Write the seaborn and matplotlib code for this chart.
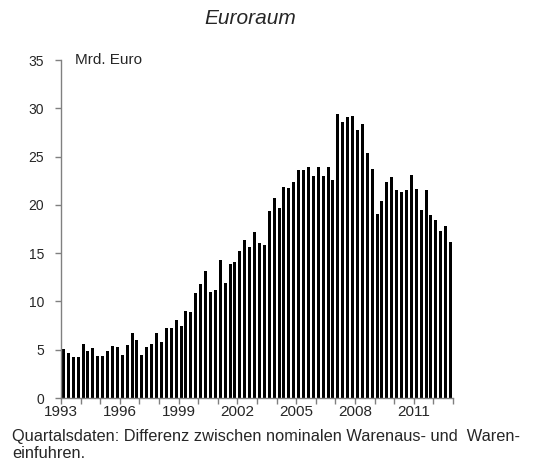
import numpy as np
import pandas as pd
import matplotlib
matplotlib.use("Agg")
import matplotlib.pyplot as plt
import seaborn as sns

# quarterly trade balance, 1993Q1 .. 2012Q4 (Mrd. Euro)
values = [
    5.1, 4.7, 4.2, 4.2,
    5.6, 4.9, 5.2, 4.4,
    4.3, 4.9, 5.4, 5.3,
    4.5, 5.5, 6.7, 6.0,
    4.5, 5.3, 5.6, 6.7,
    5.8, 7.2, 7.2, 8.1,
    7.5, 9.0, 8.9, 10.9,
    11.8, 13.1, 11.0, 11.2,
    14.3, 11.9, 13.9, 14.1,
    15.2, 16.4, 15.6, 17.2,
    16.1, 15.8, 19.4, 20.7,
    19.7, 21.9, 21.7, 22.4,
    23.6, 23.6, 23.9, 23.0,
    23.9, 23.0, 23.9, 22.6,
    29.4, 28.6, 29.1, 29.2,
    27.8, 28.4, 25.4, 23.7,
    19.1, 20.4, 22.4, 22.9,
    21.5, 21.3, 21.5, 23.1,
    21.6, 19.5, 21.5, 19.0,
    18.4, 17.3, 17.8, 16.2,
]
start_year = 1993
end_year = 2013
year_labels = [1993, 1996, 1999, 2002, 2005, 2008, 2011]

xpos = [start_year + (i + 0.5) / 4 for i in range(len(values))]
df = pd.DataFrame({"t": xpos, "v": values})

sns.set_theme(style="white")
plt.rcParams["font.family"] = ["Liberation Sans", "DejaVu Sans"]

fig = plt.figure(figsize=(5.52, 4.70), dpi=100)
ax = fig.add_axes([61 / 552, 1 - 398 / 470, (453 - 61) / 552, (398 - 60) / 470])

sns.barplot(data=df, x="t", y="v", native_scale=True, color="black",
            width=0.6, ax=ax, saturation=1, edgecolor="none")

ax.set_xlim(start_year, end_year)
ax.set_ylim(0, 35)
ax.set_yticks(range(0, 36, 5))
ax.set_xticks(range(start_year, end_year + 1), minor=False)
ax.set_xticklabels([str(y) if y in year_labels else "" for y in range(start_year, end_year + 1)])
ax.set_xlabel("")
ax.set_ylabel("")

for s in ["top", "right"]:
    ax.spines[s].set_visible(False)
ax.spines["left"].set_color("#808080")
ax.spines["bottom"].set_color("#808080")
ax.spines["left"].set_linewidth(1.0)
ax.spines["bottom"].set_linewidth(1.0)
ax.tick_params(axis="both", direction="out", length=4, width=1.0, color="#808080",
               bottom=True, left=True)
ax.tick_params(axis="x", labelsize=11, pad=1)
ax.tick_params(axis="y", labelsize=10, pad=8)

ax.text(0.035, 1.0, "Mrd. Euro", transform=ax.transAxes, fontsize=11,
        va="center", ha="left")
fig.text(250 / 552, 1 - 19 / 470, "Euroraum", fontsize=15, style="italic",
         ha="center", va="center")
fig.text(12 / 552, 1 - 437 / 470,
         "Quartalsdaten: Differenz zwischen nominalen Warenaus- und  Waren-",
         fontsize=11.8, ha="left", va="center")
fig.text(12 / 552, 1 - 453 / 470, "einfuhren.", fontsize=11.8, ha="left", va="center")

fig.savefig("out.png", dpi=100)
